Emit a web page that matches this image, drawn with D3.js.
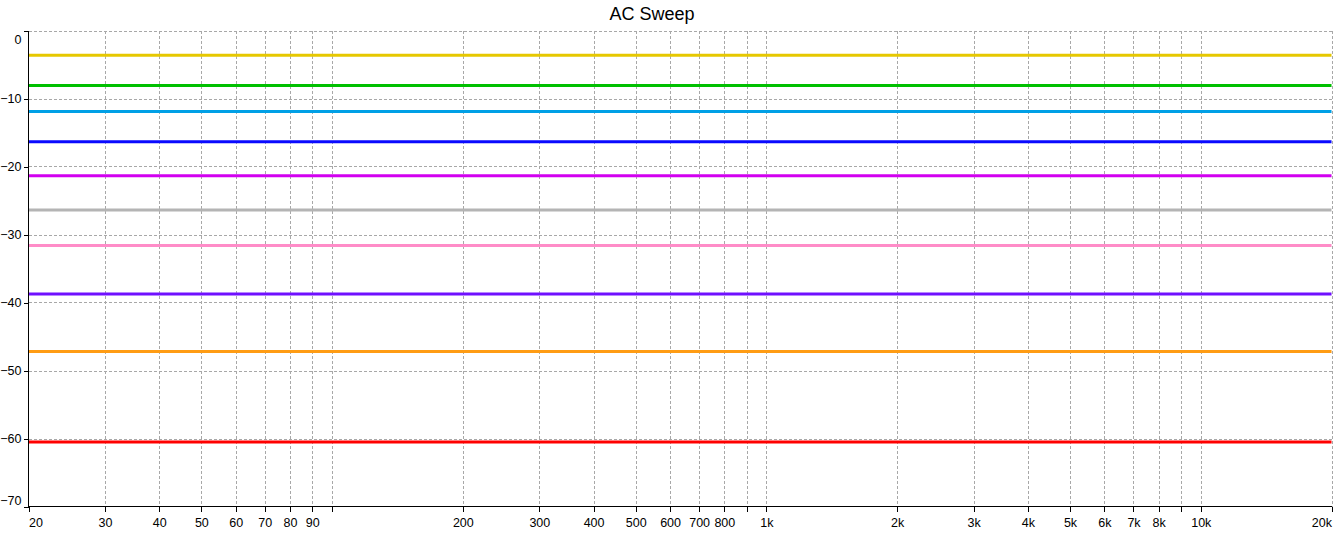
<!DOCTYPE html>
<html>
<head>
<meta charset="utf-8">
<script src="https://cdn.jsdelivr.net/npm/d3@7"></script>
<style>
	body { margin: 0; background: #fff; }
	svg { display: block; font-family: 'Liberation Sans', Arial, sans-serif; }
	.grid line { stroke: #a8a8a8; stroke-dasharray: 3,2; shape-rendering: crispEdges; }
	.axis path, .axis line { stroke: #000; shape-rendering: crispEdges; }
	.axis text { font-size: 12.5px; fill: #000; }
</style>
</head>
<body>
<svg width="1335" height="534"></svg>
<script>
'use strict';

// Sweep frequencies (Hz) and level of each trace (dB)
const freqs = [20, 20000]
const seriesNames = ['s1', 's2', 's3', 's4', 's5', 's6', 's7', 's8', 's9', 's10']
const seriesColors = ['#e6c800', '#00c000', '#00a0e6', '#0a0aff', '#d200f0', '#b4b4b4', '#ff8cc8', '#7010ff', '#ff9c14', '#ff0000']
const seriesLevels = [
	[-3.65, -3.65],
	[-8.1, -8.1],
	[-11.9, -11.9],
	[-16.35, -16.35],
	[-21.35, -21.35],
	[-26.4, -26.4],
	[-31.6, -31.6],
	[-38.75, -38.75],
	[-47.2, -47.2],
	[-60.5, -60.5],
]
const xTicks = [20, 30, 40, 50, 60, 70, 80, 90, 100, 200, 300, 400, 500, 600, 700, 800, 900, 1000, 2000, 3000, 4000, 5000, 6000, 7000, 8000, 9000, 10000, 20000]
const xTickLabels = ['20', '30', '40', '50', '60', '70', '80', '90', '', '200', '300', '400', '500', '600', '700', '800', '', '1k', '2k', '3k', '4k', '5k', '6k', '7k', '8k', '', '10k', '20k']
const yTicks = [0, -10, -20, -30, -40, -50, -60, -70]

const svg = d3.select('svg')
const M = { left: 28.5, right: 1331.5, top: 30.5, bottom: 506.5 }

const x = d3.scaleLog().domain([20, 20000]).range([M.left, M.right])
const y = d3.scaleLinear().domain([0, -70]).range([M.top, M.bottom])

// Title
svg.append('text')
	.attr('x', 652).attr('y', 20)
	.attr('text-anchor', 'middle')
	.style('font-size', '18px')
	.text('AC Sweep')

// Grid
const grid = svg.append('g').classed('grid', true)
grid.selectAll('line.v').data(xTicks.slice(1)).enter().append('line')
	.attr('x1', (d) => Math.round(x(d)) + 0.5).attr('x2', (d) => Math.round(x(d)) + 0.5)
	.attr('y1', M.top).attr('y2', M.bottom)
grid.selectAll('line.h').data(yTicks.slice(0, -1)).enter().append('line')
	.attr('x1', M.left).attr('x2', M.right)
	.attr('y1', (d) => Math.round(y(d)) + 0.5).attr('y2', (d) => Math.round(y(d)) + 0.5)

// Traces
const line = d3.line()
	.x((d) => x(d[0]))
	.y((d) => y(d[1]))
svg.append('g').selectAll('path')
	.data(seriesLevels)
	.enter().append('path')
	.attr('fill', 'none')
	.attr('stroke', (d, i) => seriesColors[i])
	.attr('stroke-width', 3)
	.attr('d', (d) => line(freqs.map((f, j) => [f, d[j]])))

// Axes
const xAxis = svg.append('g').classed('axis', true)
	.attr('transform', `translate(0,${M.bottom})`)
	.call(d3.axisBottom(x).tickValues(xTicks).tickSize(5).tickPadding(7)
		.tickFormat((d, i) => xTickLabels[i]))
	.call((g) => g.select('.domain').attr('d', `M${M.left},0H${M.right}`))
// keep end labels inside the frame
xAxis.selectAll('.tick text')
	.attr('text-anchor', (d, i, n) => i === 0 ? 'start' : i === n.length - 1 ? 'end' : 'middle')

const yAxis = svg.append('g').classed('axis', true)
	.attr('transform', `translate(${M.left},0)`)
	.call(d3.axisLeft(y).tickValues(yTicks).tickSize(5).tickPadding(2))
	.call((g) => g.select('.domain').attr('d', `M0,${M.top}V${M.bottom}`))
yAxis.selectAll('.tick text')
	.attr('dy', (d, i, n) => i === 0 ? '1.0em' : i === n.length - 1 ? '-0.2em' : '0.32em')
</script>
</body>
</html>
